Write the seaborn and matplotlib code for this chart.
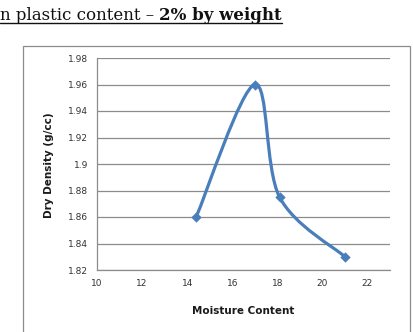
import numpy as np
import pandas as pd
import seaborn as sns
import matplotlib.pyplot as plt
from matplotlib.path import Path
from matplotlib.patches import PathPatch, Rectangle
from matplotlib.lines import Line2D

# data
moisture = [14.4, 17.0, 18.1, 21.0]
density = [1.860, 1.960, 1.875, 1.830]
x_ticks = [10, 12, 14, 16, 18, 20, 22]
y_ticks = [1.82, 1.84, 1.86, 1.88, 1.90, 1.92, 1.94, 1.96, 1.98]
y_labels = ["1.82", "1.84", "1.86", "1.88", "1.9", "1.92", "1.94", "1.96", "1.98"]

df = pd.DataFrame({"Moisture Content": moisture, "Dry Density": density})

sns.set_style("white")
plt.rcParams["font.family"] = ["DejaVu Sans"]

W, H = 413, 332
fig = plt.figure(figsize=(W / 100, H / 100), dpi=100)
fig.patch.set_facecolor("white")

# chart area border (bottom runs off the image)
fig.add_artist(Rectangle((23 / W, -0.1), (410 - 23) / W, 1.1 - 46 / H,
                         transform=fig.transFigure, fill=False,
                         edgecolor="#8c8c8c", linewidth=0.9))

ax = fig.add_axes([97 / W, 1 - 270 / H, (390 - 97) / W, (270 - 58) / H])
blue = "#4a7ebb"

# smoothed line (Excel style bezier through the points)
pts = np.column_stack([moisture, density])
n = len(pts)
verts = [tuple(pts[0])]
codes = [Path.MOVETO]
for i in range(n - 1):
    p0 = pts[max(i - 1, 0)]
    p1 = pts[i]
    p2 = pts[i + 1]
    p3 = pts[min(i + 2, n - 1)]
    c1 = p1 + (p2 - p0) / 6
    c2 = p2 - (p3 - p1) / 6
    verts += [tuple(c1), tuple(c2), tuple(p2)]
    codes += [Path.CURVE4] * 3
ax.add_patch(PathPatch(Path(verts, codes), fill=False, edgecolor=blue,
                       linewidth=2.3, capstyle="round", joinstyle="round", zorder=3))

sns.scatterplot(data=df, x="Moisture Content", y="Dry Density", marker="D",
                s=28, color=blue, edgecolor=blue, linewidth=0, ax=ax, zorder=4)

ax.set_xlim(10, 23)
ax.set_ylim(1.82, 1.98)
ax.set_xticks(x_ticks)
ax.set_yticks(y_ticks)
ax.set_yticklabels(y_labels)
ax.tick_params(axis="both", labelsize=6.5, colors="#333333", length=3.5,
               width=0.8, direction="out", pad=3)
ax.tick_params(axis="both", color="#8c8c8c")
ax.yaxis.grid(True, color="#8c8c8c", linewidth=0.9)
ax.xaxis.grid(False)
for side in ["top", "right"]:
    ax.spines[side].set_visible(False)
for side in ["left", "bottom"]:
    ax.spines[side].set_color("#8c8c8c")
    ax.spines[side].set_linewidth(0.9)

ax.set_xlabel("")
ax.set_ylabel("")
fig.text(243 / W, 1 - 311 / H, "Moisture Content", fontsize=7.5,
         fontweight="bold", ha="center", va="center", color="#1a1a1a")
fig.text(49 / W, 1 - 165 / H, "Dry Density (g/cc)", fontsize=7.5,
         fontweight="bold", ha="center", va="center", rotation=90, color="#1a1a1a")

# heading above the chart, underlined
base = 1 - 20 / H
t1 = fig.text(0, base, "n plastic content \u2013 ", fontsize=12,
              family="DejaVu Serif", ha="left", va="baseline", color="#111111")
fig.canvas.draw()
bb = t1.get_window_extent()
t2 = fig.text(bb.x1 / W, base, "2% by weight", fontsize=12,
              family="DejaVu Serif", fontweight="bold", ha="left", va="baseline",
              color="#111111")
fig.canvas.draw()
bb2 = t2.get_window_extent()
uy = 1 - 22.5 / H
fig.add_artist(Line2D([0, bb2.x1 / W], [uy, uy], transform=fig.transFigure,
                      color="#111111", linewidth=1.0))

fig.savefig("out.png", dpi=100)
